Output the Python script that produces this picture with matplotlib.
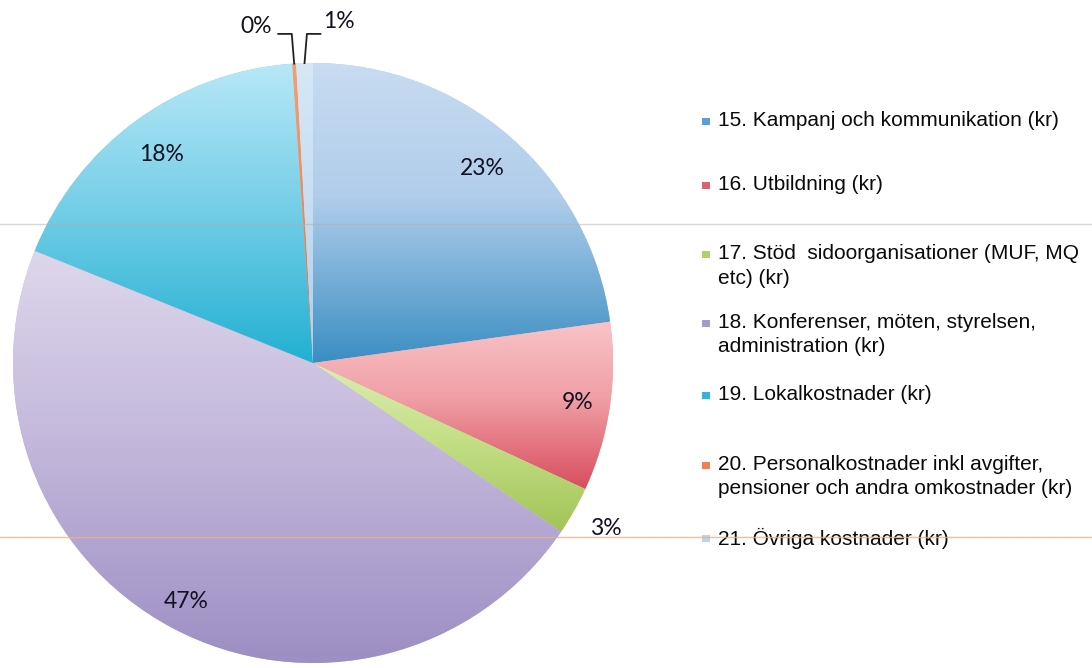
import numpy as np
import matplotlib
matplotlib.use('Agg')
import matplotlib.pyplot as plt
from matplotlib.colors import LinearSegmentedColormap
from matplotlib.patches import Rectangle

# Kostnadsposter och andel av totalen (%)
kategorier = [
    '15. Kampanj och kommunikation (kr)',
    '16. Utbildning (kr)',
    '17. Stöd  sidoorganisationer (MUF, MQ\netc) (kr)',
    '18. Konferenser, möten, styrelsen,\nadministration (kr)',
    '19. Lokalkostnader (kr)',
    '20. Personalkostnader inkl avgifter,\npensioner och andra omkostnader (kr)',
    '21. Övriga kostnader (kr)',
]
andel = [22.8, 9.1, 2.6, 46.6, 17.8, 0.2, 0.9]

# toningar, ljus upptill -> mörk nedtill
farg_topp = ['#c8dcf2', '#f8c4c8', '#dcedb4', '#ded7eb', '#b8e8f7', '#f4a070', '#d6e8f7']
farg_mitt = ['#b0cdea', '#f0a0a6', '#c4df86', '#c4b9dc', '#7ad0e8', '#f08a5a', '#c8def2']
farg_botten = ['#3a8ec2', '#d84e5e', '#a2c458', '#9d8ec3', '#22b0d2', '#e06a3a', '#aecdeb']
# legendrutornas färger
farg_ruta = ['#5a9fd6', '#e06070', '#b0d070', '#a69ac8', '#30b4d8', '#f08050', '#b8d4ee']

# etikettens avstånd från mitten (radier)
etikett_r = [0.86, 0.89, 1.12, 0.90, 0.86, None, None]
# legendens rader, pixlar uppifrån
legend_y = [121, 185, 254, 323, 395, 465, 538]

W, H = 1092, 668
cx, cy, R = 313, 363, 300

fig = plt.figure(figsize=(W / 100, H / 100), dpi=100)
ax = fig.add_axes([0, 0, 1, 1])

wedges, _ = ax.pie(andel, startangle=90, counterclock=False, radius=1.0,
                   colors=farg_mitt, wedgeprops=dict(linewidth=0))

grad = np.linspace(0, 1, 256).reshape(-1, 1)
for i, w in enumerate(wedges):
    ext = w.get_path().get_extents()
    cmap = LinearSegmentedColormap.from_list(
        'g%d' % i, [(0, farg_botten[i]), (0.55, farg_mitt[i]), (1, farg_topp[i])])
    im = ax.imshow(grad, extent=(ext.x0, ext.x1, ext.y0, ext.y1), origin='lower',
                   cmap=cmap, aspect='auto', interpolation='bicubic', zorder=1.5)
    im.set_clip_path(w)

# procentetiketter
tot = sum(andel)
cum = 0
mitt_vinkel = []
for v in andel:
    mid = (cum + v / 2) / tot * 360
    mitt_vinkel.append(np.deg2rad(90 - mid))
    cum += v

pct_font = dict(family=['Lato', 'DejaVu Sans'], fontsize=16.5, color='#111122')
for i, v in enumerate(andel):
    txt = '%d%%' % round(v / tot * 100)
    a = mitt_vinkel[i]
    if etikett_r[i] is not None:
        ax.text(etikett_r[i] * np.cos(a), etikett_r[i] * np.sin(a), txt,
                ha='center', va='center', zorder=5, **pct_font)
    else:
        # små sektorer: text ovanför med hänvisningslinje
        x0, y0 = np.cos(a), np.sin(a)
        yk = 1.097
        if i == 5:
            xk = x0 - 0.008
            xe = xk - 0.045
            ax.plot([x0, xk, xe], [y0, yk, yk], color='#222222', lw=1.3, zorder=5)
            ax.text(xe - 0.02, 1.12, txt, ha='right', va='center', zorder=5, **pct_font)
        else:
            xk = x0 + 0.008
            xe = xk + 0.045
            ax.plot([x0, xk, xe], [y0, yk, yk], color='#222222', lw=1.3, zorder=5)
            ax.text(xe + 0.01, 1.137, txt, ha='left', va='center', zorder=5, **pct_font)

ax.set_xlim(-cx / R, (W - cx) / R)
ax.set_ylim((cy - H) / R, cy / R)
ax.set_aspect('auto')
ax.axis('off')

# linjer från det skannade pappret
fig.add_artist(plt.Line2D([0, 1], [1 - 224 / H] * 2, transform=fig.transFigure,
                          color='#b0b0b0', lw=1.0, alpha=0.5, zorder=10))
fig.add_artist(plt.Line2D([0, 1], [1 - 537 / H] * 2, transform=fig.transFigure,
                          color='#f0b080', lw=1.0, alpha=0.8, zorder=10))

# legend
leg_font = dict(family=['Liberation Sans', 'DejaVu Sans'], fontsize=15, color='#0a0a0a')
for i, lab in enumerate(kategorier):
    py = legend_y[i]
    fig.add_artist(Rectangle((702 / W, 1 - (py + 4) / H), 8 / W, 7 / H,
                             transform=fig.transFigure, color=farg_ruta[i], lw=0))
    for j, rad in enumerate(lab.split('\n')):
        fig.text(718 / W, 1 - (py + j * 24) / H, rad, ha='left', va='center', **leg_font)

fig.savefig('out.png', dpi=100)
